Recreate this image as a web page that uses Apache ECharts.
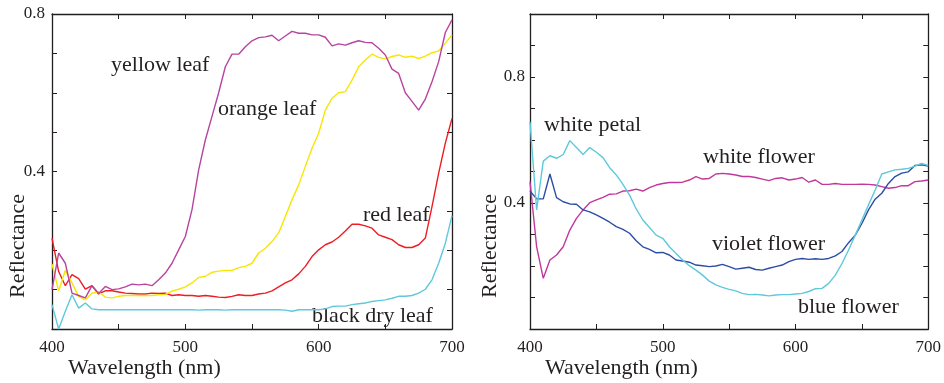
<!DOCTYPE html>
<html>
<head>
<meta charset="utf-8">
<script src="https://cdn.jsdelivr.net/npm/echarts@6/dist/echarts.min.js"></script>
<style>
  html, body { margin: 0; padding: 0; background: #fff; }
  #chart { width: 944px; height: 383px; }
</style>
</head>
<body>
<div id="chart"></div>
<script>
// wavelength samples (nm), every 5 nm
var wavelengths = [400,405,410,415,420,425,430,435,440,445,450,455,460,465,470,475,480,485,490,495,
  500,505,510,515,520,525,530,535,540,545,550,555,560,565,570,575,580,585,590,595,
  600,605,610,615,620,625,630,635,640,645,650,655,660,665,670,675,680,685,690,695,700];

// left panel: leaves
var yellowLeaf = [0.100,0.193,0.167,0.091,0.085,0.079,0.110,0.090,0.108,0.100,0.102,0.107,0.114,0.112,0.114,0.110,0.125,0.142,0.167,0.201,
  0.235,0.303,0.404,0.480,0.540,0.600,0.666,0.698,0.698,0.717,0.732,0.740,0.742,0.746,0.732,0.744,0.756,0.751,0.751,0.747,
  0.747,0.741,0.719,0.724,0.721,0.727,0.732,0.728,0.727,0.713,0.696,0.660,0.649,0.600,0.578,0.556,0.584,0.628,0.679,0.753,0.785];
var orangeLeaf = [0.165,0.097,0.149,0.117,0.083,0.074,0.091,0.094,0.081,0.079,0.083,0.085,0.085,0.085,0.085,0.085,0.087,0.088,0.096,0.101,
  0.107,0.117,0.131,0.134,0.144,0.147,0.149,0.149,0.156,0.159,0.167,0.193,0.205,0.222,0.244,0.286,0.328,0.366,0.413,0.459,
  0.497,0.556,0.586,0.600,0.603,0.632,0.666,0.683,0.698,0.690,0.686,0.692,0.696,0.690,0.693,0.687,0.693,0.702,0.706,0.726,0.747];
var redLeaf = [0.231,0.146,0.110,0.138,0.128,0.101,0.110,0.089,0.097,0.097,0.094,0.091,0.090,0.089,0.089,0.091,0.090,0.091,0.085,0.087,
  0.085,0.085,0.083,0.085,0.083,0.081,0.080,0.083,0.087,0.085,0.085,0.089,0.091,0.097,0.107,0.117,0.125,0.140,0.159,0.184,
  0.201,0.214,0.221,0.233,0.249,0.266,0.266,0.262,0.256,0.239,0.233,0.227,0.214,0.207,0.207,0.214,0.231,0.311,0.396,0.472,0.535];
var blackDryLeaf = [0.062,0.000,0.045,0.087,0.053,0.066,0.051,0.049,0.049,0.049,0.049,0.049,0.049,0.049,0.049,0.049,0.049,0.049,0.049,0.049,
  0.049,0.049,0.048,0.049,0.049,0.049,0.048,0.049,0.049,0.049,0.049,0.049,0.049,0.049,0.049,0.048,0.045,0.049,0.049,0.049,
  0.049,0.051,0.057,0.058,0.058,0.062,0.064,0.066,0.070,0.072,0.074,0.078,0.083,0.083,0.085,0.091,0.101,0.125,0.167,0.218,0.288];

// right panel: flowers
var whitePetal = [0.658,0.378,0.533,0.550,0.542,0.554,0.598,0.576,0.554,0.576,0.561,0.544,0.512,0.489,0.459,0.425,0.381,0.346,0.322,0.298,
  0.288,0.261,0.240,0.219,0.201,0.187,0.171,0.152,0.140,0.132,0.126,0.121,0.113,0.109,0.110,0.108,0.105,0.108,0.109,0.109,
  0.111,0.113,0.119,0.128,0.129,0.145,0.171,0.208,0.251,0.298,0.346,0.394,0.441,0.492,0.499,0.505,0.507,0.510,0.517,0.526,0.519];
var violetFlower = [0.438,0.413,0.413,0.492,0.417,0.404,0.397,0.396,0.378,0.372,0.362,0.351,0.339,0.325,0.316,0.304,0.280,0.261,0.253,0.242,
  0.243,0.235,0.219,0.216,0.212,0.203,0.201,0.198,0.200,0.205,0.198,0.190,0.193,0.196,0.189,0.187,0.193,0.198,0.203,0.214,
  0.221,0.224,0.221,0.223,0.221,0.224,0.232,0.246,0.274,0.298,0.335,0.378,0.412,0.431,0.462,0.484,0.495,0.499,0.519,0.521,0.517];
var whiteFlower = [0.468,0.261,0.161,0.219,0.235,0.261,0.314,0.351,0.378,0.401,0.410,0.418,0.428,0.429,0.438,0.439,0.444,0.438,0.449,0.457,
  0.462,0.465,0.465,0.466,0.473,0.484,0.476,0.478,0.492,0.494,0.492,0.489,0.484,0.484,0.481,0.476,0.471,0.478,0.480,0.473,
  0.476,0.481,0.466,0.473,0.459,0.459,0.462,0.459,0.459,0.459,0.460,0.459,0.457,0.452,0.447,0.449,0.455,0.455,0.468,0.470,0.473];

var xTickLabels = [400, 500, 600, 700];
var yTickLabels = [0.4, 0.8];

function pairs(vals) {
  return wavelengths.map(function (w, i) { return [w, vals[i]]; });
}

var serif = '"Liberation Serif", "DejaVu Serif", serif';
var ink = '#231f20';

function xAxes(gridIndex) {
  var base = {
    type: 'value', gridIndex: gridIndex, min: 400, max: 700, interval: 50,
    axisLine: { show: true, onZero: false, lineStyle: { color: ink, width: 1.3 } },
    axisTick: { show: true, inside: true, length: 5, lineStyle: { color: ink, width: 1 } },
    splitLine: { show: false }
  };
  var bottom = Object.assign({}, base, {
    position: 'bottom',
    axisLabel: {
      show: true, margin: 10, color: ink, fontFamily: serif, fontSize: 17,
      formatter: function (v) { return xTickLabels.indexOf(v) >= 0 ? String(v) : ''; }
    }
  });
  var top = Object.assign({}, base, { position: 'top', axisLabel: { show: false } });
  return [bottom, top];
}

function yAxes(gridIndex, max, margin) {
  var base = {
    type: 'value', gridIndex: gridIndex, min: 0, max: max, interval: 0.1,
    axisLine: { show: true, onZero: false, lineStyle: { color: ink, width: 1.3 } },
    axisTick: { show: true, inside: true, length: 5, lineStyle: { color: ink, width: 1 } },
    splitLine: { show: false }
  };
  var left = Object.assign({}, base, {
    position: 'left',
    axisLabel: {
      show: true, margin: margin, color: ink, fontFamily: serif, fontSize: 17,
      formatter: function (v) {
        for (var i = 0; i < yTickLabels.length; i++) {
          if (Math.abs(v - yTickLabels[i]) < 1e-6) return yTickLabels[i].toFixed(1);
        }
        return '';
      }
    }
  });
  var right = Object.assign({}, base, { position: 'right', axisLabel: { show: false } });
  return [left, right];
}

function line(name, vals, color, xi, yi) {
  return {
    name: name, type: 'line', data: pairs(vals),
    xAxisIndex: xi, yAxisIndex: yi,
    symbol: 'none', smooth: false, animation: false,
    lineStyle: { color: color, width: 1.4 }
  };
}

// x = left edge, y = vertical middle of the text
function label(text, x, y) {
  return {
    type: 'text', x: x, y: y,
    style: { text: text, fill: ink, font: '22px ' + serif, align: 'left', verticalAlign: 'middle' }
  };
}
function vlabel(text, cx, cy) {
  return {
    type: 'text', x: cx, y: cy, rotation: Math.PI / 2,
    style: { text: text, fill: ink, font: '22px ' + serif, align: 'center', verticalAlign: 'middle' }
  };
}

var chart = echarts.init(document.getElementById('chart'));
chart.setOption({
  backgroundColor: '#fff',
  animation: false,
  grid: [
    { left: 52, top: 14, width: 400, height: 315 },
    { left: 530, top: 14, width: 400, height: 315 }
  ],
  xAxis: xAxes(0).concat(xAxes(1)),
  yAxis: yAxes(0, 0.8, 7).concat(yAxes(1, 1.0, 5)),
  series: [
    line('black dry leaf', blackDryLeaf, '#5ec9db', 0, 0),
    line('red leaf', redLeaf, '#ee1c24', 0, 0),
    line('orange leaf', orangeLeaf, '#f7e600', 0, 0),
    line('yellow leaf', yellowLeaf, '#b8449f', 0, 0),
    line('white flower', whiteFlower, '#c2379b', 2, 2),
    line('violet flower', violetFlower, '#2d4ca6', 2, 2),
    line('white petal / blue flower', whitePetal, '#5ec9db', 2, 2)
  ],
  graphic: [
    label('yellow leaf', 111, 65),
    label('orange leaf', 218, 109),
    label('red leaf', 363, 215),
    label('black dry leaf', 312, 316),
    label('white petal', 544, 125),
    label('white flower', 703, 157),
    label('violet flower', 712, 244),
    label('blue flower', 798, 307),
    label('Wavelength (nm)', 68, 368),
    label('Wavelength (nm)', 545, 368),
    vlabel('Reflectance', 18, 246),
    vlabel('Reflectance', 490, 246)
  ]
});
</script>
</body>
</html>
